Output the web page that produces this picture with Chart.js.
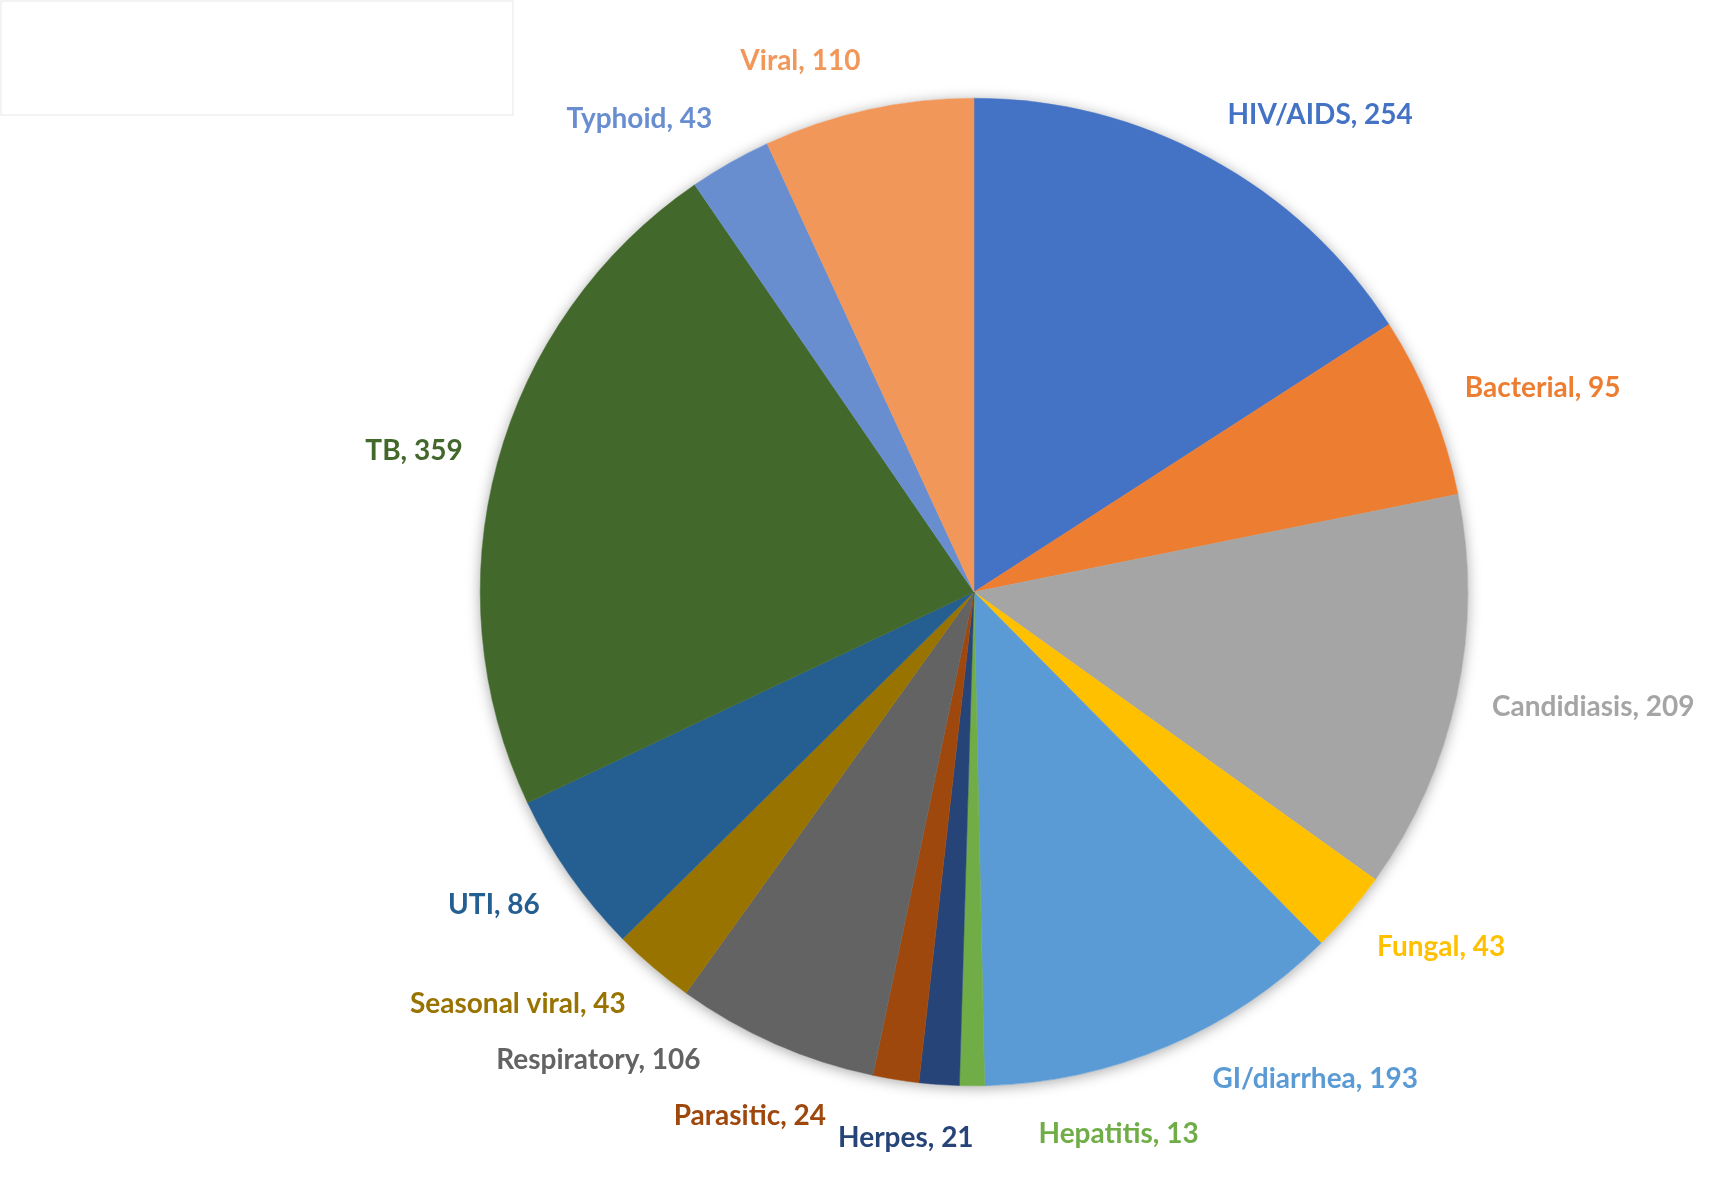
<!DOCTYPE html>
<html>
<head>
<meta charset="utf-8">
<script src="https://cdn.jsdelivr.net/npm/chart.js@4.4.1/dist/chart.umd.min.js"></script>
<style>
  html, body { margin: 0; padding: 0; background: #fff; }
  #wrap { width: 1717px; height: 1179px; position: relative; }
</style>
</head>
<body>
<div id="wrap"><canvas id="infectionPie"></canvas></div>
<script>
// categories in clockwise order starting at 12 o'clock
const categories = ['HIV/AIDS', 'Bacterial', 'Candidiasis', 'Fungal', 'GI/diarrhea', 'Hepatitis',
    'Herpes', 'Parasitic', 'Respiratory', 'Seasonal viral', 'UTI', 'TB', 'Typhoid', 'Viral'];
const counts = [254, 95, 209, 43, 193, 13, 21, 24, 106, 43, 86, 359, 43, 110];
const sliceColors = ['#4472C4', '#ED7D31', '#A5A5A5', '#FFC000', '#5B9BD5', '#70AD47',
    '#264478', '#9E480E', '#636363', '#997300', '#255E91', '#43682B', '#698ED0', '#F1975A'];

const labelFont = 'bold 28px Lato';

// faint empty title box in the top-left corner + soft shadow behind the pie
const backdrop = {
    id: 'backdrop',
    beforeDraw(chart) {
        const c = chart.ctx;
        c.save();
        c.strokeStyle = '#efefef';
        c.lineWidth = 1.5;
        c.strokeRect(1, 1, 512, 114);
        c.restore();
    },
    beforeDatasetsDraw(chart) {
        const arc = chart.getDatasetMeta(0).data[0];
        if (!arc) return;
        const c = chart.ctx;
        c.save();
        c.shadowColor = 'rgba(0,0,0,0.35)';
        c.shadowBlur = 14;
        c.shadowOffsetY = 2;
        c.fillStyle = '#fff';
        c.beginPath();
        c.arc(arc.x, arc.y, arc.outerRadius, 0, Math.PI * 2);
        c.fill();
        c.restore();
    }
};

// outside-end labels: box sits just outside the slice, spread apart where they collide
const outsideLabels = {
    id: 'outsideLabels',
    afterDatasetsDraw(chart) {
        const c = chart.ctx;
        const arcs = chart.getDatasetMeta(0).data;
        const gap = 36;
        c.save();
        c.font = labelFont;
        const items = arcs.map((a, i) => {
            const text = categories[i] + ', ' + counts[i];
            return {
                text,
                ang: (a.startAngle + a.endAngle) / 2,
                w: c.measureText(text).width,
                h: 30,
                color: sliceColors[i]
            };
        });
        const boxOf = (it) => {
            const R = arcs[0].outerRadius + gap;
            const ca = Math.cos(it.ang), sa = Math.sin(it.ang);
            return {
                cx: arcs[0].x + ca * R + Math.sign(ca) * it.w / 2,
                cy: arcs[0].y + sa * R + sa * it.h / 2
            };
        };
        const overlap = (a, b) => {
            const A = boxOf(a), B = boxOf(b);
            return Math.abs(A.cx - B.cx) < (a.w + b.w) / 2 + 12 &&
                   Math.abs(A.cy - B.cy) < (a.h + b.h) / 2 + 26;
        };
        const step = 0.002;
        for (let iter = 0; iter < 1500; iter++) {
            let moved = false;
            for (let i = 0; i < items.length; i++) {
                const j = (i + 1) % items.length;
                if (overlap(items[i], items[j])) {
                    items[i].ang -= step;
                    items[j].ang += step;
                    moved = true;
                }
            }
            if (!moved) break;
        }
        c.textAlign = 'center';
        c.textBaseline = 'middle';
        items.forEach(it => {
            const b = boxOf(it);
            c.fillStyle = it.color;
            c.fillText(it.text, b.cx, b.cy + 1);
        });
        c.restore();
    }
};

const ctx = document.getElementById('infectionPie').getContext('2d');
const infectionPie = new Chart(ctx, {
    type: 'pie',
    data: {
        labels: categories,
        datasets: [{
            data: counts,
            backgroundColor: sliceColors,
            borderColor: sliceColors,
            borderWidth: 0.5
        }]
    },
    options: {
        responsive: true,
        maintainAspectRatio: false,
        animation: false,
        layout: {
            padding: { left: 480, right: 249, top: 98, bottom: 93 }
        },
        plugins: {
            legend: { display: false },
            tooltip: { enabled: false }
        }
    },
    plugins: [backdrop, outsideLabels]
});
</script>
</body>
</html>
